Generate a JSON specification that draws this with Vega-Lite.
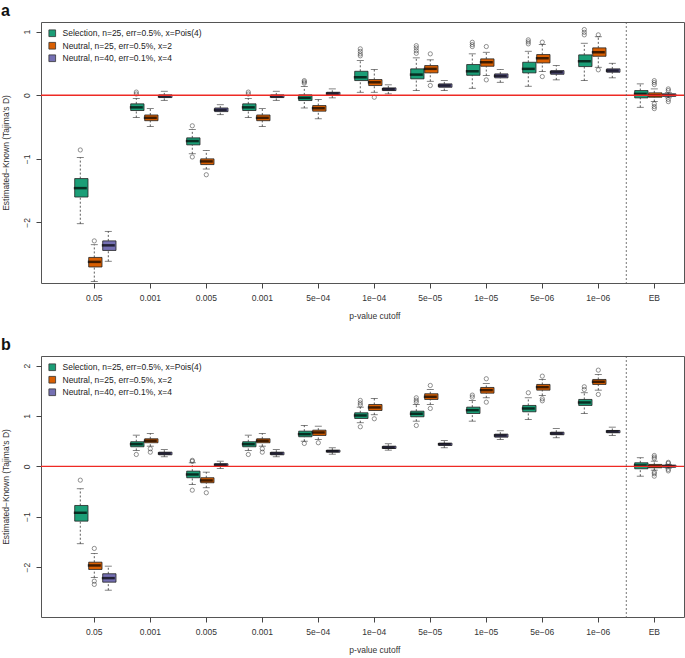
{
  "$schema": "https://vega.github.io/schema/vega-lite/v6.json",
  "padding": {"left": 0, "top": 2, "right": 2, "bottom": 0},
  "background": "white",
  "spacing": 15,
  "config": {
    "font": "Liberation Sans",
    "view": {"stroke": "#555", "strokeWidth": 1},
    "axis": {"labelFont": "Liberation Sans", "titleFont": "Liberation Sans", "labelFontSize": 8.5, "titleFontSize": 8.5, "labelColor": "#333", "titleColor": "#333", "titleFontWeight": "normal", "tickColor": "#444", "domain": false, "grid": false, "tickSize": 5},
    "legend": {"labelFont": "Liberation Sans", "labelFontSize": 8.5, "labelColor": "#222"},
    "title": {"font": "Liberation Sans", "fontSize": 16, "fontWeight": "bold", "anchor": "start", "frame": "bounds", "offset": 3, "color": "#111"}
  },
  "resolve": {"scale": {"fill": "independent", "y": "independent"}, "legend": {"fill": "independent"}},
  "datasets": {
    "boxes": [
      {"p":"a","c":"0.05","g":"sel","lo":-2.02,"q1":-1.60,"md":-1.46,"q3":-1.31,"hi":-0.98},
      {"p":"a","c":"0.05","g":"n25","lo":-2.93,"q1":-2.70,"md":-2.62,"q3":-2.55,"hi":-2.35},
      {"p":"a","c":"0.05","g":"n40","lo":-2.61,"q1":-2.44,"md":-2.36,"q3":-2.29,"hi":-2.14},
      {"p":"a","c":"0.001","g":"sel","lo":-0.35,"q1":-0.24,"md":-0.19,"q3":-0.135,"hi":-0.05},
      {"p":"a","c":"0.001","g":"n25","lo":-0.49,"q1":-0.40,"md":-0.355,"q3":-0.31,"hi":-0.21},
      {"p":"a","c":"0.001","g":"n40","lo":-0.08,"q1":-0.036,"md":-0.016,"q3":0.006,"hi":0.063},
      {"p":"a","c":"0.005","g":"sel","lo":-0.92,"q1":-0.78,"md":-0.72,"q3":-0.67,"hi":-0.54},
      {"p":"a","c":"0.005","g":"n25","lo":-1.16,"q1":-1.09,"md":-1.04,"q3":-1.0,"hi":-0.87},
      {"p":"a","c":"0.005","g":"n40","lo":-0.305,"q1":-0.257,"md":-0.23,"q3":-0.2,"hi":-0.149},
      {"p":"a","c":"0.001 (2)","g":"sel","lo":-0.35,"q1":-0.24,"md":-0.19,"q3":-0.135,"hi":-0.05},
      {"p":"a","c":"0.001 (2)","g":"n25","lo":-0.49,"q1":-0.40,"md":-0.355,"q3":-0.31,"hi":-0.21},
      {"p":"a","c":"0.001 (2)","g":"n40","lo":-0.08,"q1":-0.036,"md":-0.016,"q3":0.006,"hi":0.063},
      {"p":"a","c":"5e−04","g":"sel","lo":-0.2,"q1":-0.083,"md":-0.041,"q3":0.006,"hi":0.137},
      {"p":"a","c":"5e−04","g":"n25","lo":-0.37,"q1":-0.25,"md":-0.204,"q3":-0.162,"hi":-0.068},
      {"p":"a","c":"5e−04","g":"n40","lo":-0.041,"q1":0.006,"md":0.027,"q3":0.047,"hi":0.1},
      {"p":"a","c":"1e−04","g":"sel","lo":0.047,"q1":0.231,"md":0.283,"q3":0.377,"hi":0.546},
      {"p":"a","c":"1e−04","g":"n25","lo":0.047,"q1":0.153,"md":0.204,"q3":0.247,"hi":0.404},
      {"p":"a","c":"1e−04","g":"n40","lo":0.022,"q1":0.074,"md":0.094,"q3":0.116,"hi":0.164},
      {"p":"a","c":"5e−05","g":"sel","lo":0.074,"q1":0.258,"md":0.325,"q3":0.415,"hi":0.588},
      {"p":"a","c":"5e−05","g":"n25","lo":0.22,"q1":0.352,"md":0.415,"q3":0.467,"hi":0.557},
      {"p":"a","c":"5e−05","g":"n40","lo":0.074,"q1":0.126,"md":0.153,"q3":0.179,"hi":0.231},
      {"p":"a","c":"1e−05","g":"sel","lo":0.11,"q1":0.314,"md":0.377,"q3":0.483,"hi":0.651},
      {"p":"a","c":"1e−05","g":"n25","lo":0.31,"q1":0.456,"md":0.519,"q3":0.572,"hi":0.676},
      {"p":"a","c":"1e−05","g":"n40","lo":0.204,"q1":0.274,"md":0.305,"q3":0.336,"hi":0.404},
      {"p":"a","c":"5e−06","g":"sel","lo":0.142,"q1":0.352,"md":0.415,"q3":0.519,"hi":0.692},
      {"p":"a","c":"5e−06","g":"n25","lo":0.373,"q1":0.509,"md":0.582,"q3":0.64,"hi":0.80},
      {"p":"a","c":"5e−06","g":"n40","lo":0.242,"q1":0.33,"md":0.362,"q3":0.388,"hi":0.467},
      {"p":"a","c":"1e−06","g":"sel","lo":0.231,"q1":0.451,"md":0.535,"q3":0.635,"hi":0.818},
      {"p":"a","c":"1e−06","g":"n25","lo":0.44,"q1":0.613,"md":0.676,"q3":0.745,"hi":0.92},
      {"p":"a","c":"1e−06","g":"n40","lo":0.274,"q1":0.362,"md":0.388,"q3":0.415,"hi":0.503},
      {"p":"a","c":"EB","g":"sel","lo":-0.189,"q1":-0.041,"md":0.022,"q3":0.074,"hi":0.179},
      {"p":"a","c":"EB","g":"n25","lo":-0.1,"q1":-0.031,"md":0.0,"q3":0.038,"hi":0.1},
      {"p":"a","c":"EB","g":"n40","lo":-0.04,"q1":-0.016,"md":0.003,"q3":0.022,"hi":0.04},
      {"p":"b","c":"0.05","g":"sel","lo":-1.537,"q1":-1.088,"md":-0.922,"q3":-0.777,"hi":-0.445},
      {"p":"b","c":"0.05","g":"n25","lo":-2.21,"q1":-2.048,"md":-1.968,"q3":-1.903,"hi":-1.73},
      {"p":"b","c":"0.05","g":"n40","lo":-2.459,"q1":-2.3,"md":-2.22,"q3":-2.133,"hi":-1.982},
      {"p":"b","c":"0.001","g":"sel","lo":0.316,"q1":0.389,"md":0.441,"q3":0.489,"hi":0.62},
      {"p":"b","c":"0.001","g":"n25","lo":0.401,"q1":0.469,"md":0.508,"q3":0.548,"hi":0.653},
      {"p":"b","c":"0.001","g":"n40","lo":0.19,"q1":0.23,"md":0.256,"q3":0.282,"hi":0.336},
      {"p":"b","c":"0.005","g":"sel","lo":-0.36,"q1":-0.226,"md":-0.161,"q3":-0.095,"hi":0.071},
      {"p":"b","c":"0.005","g":"n25","lo":-0.425,"q1":-0.326,"md":-0.28,"q3":-0.226,"hi":-0.115},
      {"p":"b","c":"0.005","g":"n40","lo":-0.042,"q1":0.012,"md":0.032,"q3":0.052,"hi":0.103},
      {"p":"b","c":"0.001 (2)","g":"sel","lo":0.316,"q1":0.389,"md":0.441,"q3":0.489,"hi":0.62},
      {"p":"b","c":"0.001 (2)","g":"n25","lo":0.401,"q1":0.469,"md":0.508,"q3":0.548,"hi":0.653},
      {"p":"b","c":"0.001 (2)","g":"n40","lo":0.19,"q1":0.23,"md":0.256,"q3":0.282,"hi":0.336},
      {"p":"b","c":"5e−04","g":"sel","lo":0.5,"q1":0.588,"md":0.64,"q3":0.699,"hi":0.812},
      {"p":"b","c":"5e−04","g":"n25","lo":0.534,"q1":0.614,"md":0.673,"q3":0.719,"hi":0.798},
      {"p":"b","c":"5e−04","g":"n40","lo":0.242,"q1":0.282,"md":0.302,"q3":0.322,"hi":0.369},
      {"p":"b","c":"1e−04","g":"sel","lo":0.866,"q1":0.951,"md":1.011,"q3":1.064,"hi":1.176},
      {"p":"b","c":"1e−04","g":"n25","lo":1.025,"q1":1.11,"md":1.17,"q3":1.229,"hi":1.349},
      {"p":"b","c":"1e−04","g":"n40","lo":0.322,"q1":0.355,"md":0.375,"q3":0.401,"hi":0.449},
      {"p":"b","c":"5e−05","g":"sel","lo":0.898,"q1":0.985,"md":1.045,"q3":1.096,"hi":1.229},
      {"p":"b","c":"5e−05","g":"n25","lo":1.229,"q1":1.329,"md":1.382,"q3":1.442,"hi":1.527},
      {"p":"b","c":"5e−05","g":"n40","lo":0.369,"q1":0.415,"md":0.441,"q3":0.461,"hi":0.514},
      {"p":"b","c":"1e−05","g":"sel","lo":0.898,"q1":1.05,"md":1.116,"q3":1.176,"hi":1.309},
      {"p":"b","c":"1e−05","g":"n25","lo":1.362,"q1":1.454,"md":1.514,"q3":1.567,"hi":1.647},
      {"p":"b","c":"1e−05","g":"n40","lo":0.534,"q1":0.58,"md":0.614,"q3":0.64,"hi":0.707},
      {"p":"b","c":"5e−06","g":"sel","lo":0.931,"q1":1.084,"md":1.15,"q3":1.21,"hi":1.362},
      {"p":"b","c":"5e−06","g":"n25","lo":1.408,"q1":1.514,"md":1.573,"q3":1.627,"hi":1.726},
      {"p":"b","c":"5e−06","g":"n40","lo":0.568,"q1":0.628,"md":0.653,"q3":0.679,"hi":0.753},
      {"p":"b","c":"1e−06","g":"sel","lo":1.05,"q1":1.21,"md":1.269,"q3":1.329,"hi":1.462},
      {"p":"b","c":"1e−06","g":"n25","lo":1.514,"q1":1.627,"md":1.68,"q3":1.726,"hi":1.825},
      {"p":"b","c":"1e−06","g":"n40","lo":0.614,"q1":0.667,"md":0.693,"q3":0.713,"hi":0.779},
      {"p":"b","c":"EB","g":"sel","lo":-0.195,"q1":-0.048,"md":0.018,"q3":0.071,"hi":0.171},
      {"p":"b","c":"EB","g":"n25","lo":-0.075,"q1":-0.028,"md":0.004,"q3":0.038,"hi":0.103},
      {"p":"b","c":"EB","g":"n40","lo":-0.035,"q1":-0.016,"md":0.004,"q3":0.024,"hi":0.04}
    ],
    "outs": [
      {"p":"a","c":"0.05","g":"sel","v":-0.86},
      {"p":"a","c":"0.05","g":"n25","v":-2.29},
      {"p":"a","c":"0.001","g":"sel","v":0.02},
      {"p":"a","c":"0.001","g":"sel","v":0.05},
      {"p":"a","c":"0.005","g":"sel","v":-0.48},
      {"p":"a","c":"0.005","g":"sel","v":-0.97},
      {"p":"a","c":"0.005","g":"n25","v":-1.25},
      {"p":"a","c":"0.001 (2)","g":"sel","v":0.02},
      {"p":"a","c":"0.001 (2)","g":"sel","v":0.05},
      {"p":"a","c":"5e−04","g":"sel","v":0.19},
      {"p":"a","c":"5e−04","g":"sel","v":0.21},
      {"p":"a","c":"5e−04","g":"sel","v":0.23},
      {"p":"a","c":"1e−04","g":"sel","v":0.62},
      {"p":"a","c":"1e−04","g":"sel","v":0.65},
      {"p":"a","c":"1e−04","g":"sel","v":0.69},
      {"p":"a","c":"1e−04","g":"sel","v":0.73},
      {"p":"a","c":"1e−04","g":"n25","v":-0.031},
      {"p":"a","c":"5e−05","g":"sel","v":0.66},
      {"p":"a","c":"5e−05","g":"sel","v":0.70},
      {"p":"a","c":"5e−05","g":"sel","v":0.745},
      {"p":"a","c":"5e−05","g":"sel","v":0.78},
      {"p":"a","c":"5e−05","g":"n25","v":0.651},
      {"p":"a","c":"5e−05","g":"n25","v":0.153},
      {"p":"a","c":"1e−05","g":"sel","v":0.766},
      {"p":"a","c":"1e−05","g":"sel","v":0.797},
      {"p":"a","c":"1e−05","g":"sel","v":0.833},
      {"p":"a","c":"1e−05","g":"n25","v":0.766},
      {"p":"a","c":"1e−05","g":"n25","v":0.242},
      {"p":"a","c":"5e−06","g":"sel","v":0.808},
      {"p":"a","c":"5e−06","g":"sel","v":0.84},
      {"p":"a","c":"5e−06","g":"sel","v":0.871},
      {"p":"a","c":"5e−06","g":"n25","v":0.835},
      {"p":"a","c":"5e−06","g":"n25","v":0.294},
      {"p":"a","c":"1e−06","g":"sel","v":0.95},
      {"p":"a","c":"1e−06","g":"sel","v":0.99},
      {"p":"a","c":"1e−06","g":"sel","v":1.033},
      {"p":"a","c":"1e−06","g":"n25","v":0.95},
      {"p":"a","c":"1e−06","g":"n25","v":0.40},
      {"p":"a","c":"EB","g":"n25","v":0.168},
      {"p":"a","c":"EB","g":"n25","v":0.2},
      {"p":"a","c":"EB","g":"n25","v":0.23},
      {"p":"a","c":"EB","g":"n25","v":-0.135},
      {"p":"a","c":"EB","g":"n25","v":-0.178},
      {"p":"a","c":"EB","g":"n25","v":-0.21},
      {"p":"a","c":"EB","g":"n40","v":0.074},
      {"p":"a","c":"EB","g":"n40","v":0.1},
      {"p":"a","c":"EB","g":"n40","v":-0.066},
      {"p":"a","c":"EB","g":"n40","v":-0.1},
      {"p":"b","c":"0.05","g":"sel","v":-0.274},
      {"p":"b","c":"0.05","g":"n25","v":-1.63},
      {"p":"b","c":"0.05","g":"n25","v":-2.28},
      {"p":"b","c":"0.05","g":"n25","v":-2.345},
      {"p":"b","c":"0.001","g":"sel","v":0.236},
      {"p":"b","c":"0.001","g":"n25","v":0.349},
      {"p":"b","c":"0.001","g":"n25","v":0.282},
      {"p":"b","c":"0.005","g":"sel","v":0.10},
      {"p":"b","c":"0.005","g":"sel","v":0.12},
      {"p":"b","c":"0.005","g":"sel","v":-0.473},
      {"p":"b","c":"0.005","g":"n25","v":-0.524},
      {"p":"b","c":"0.001 (2)","g":"sel","v":0.236},
      {"p":"b","c":"0.001 (2)","g":"n25","v":0.349},
      {"p":"b","c":"0.001 (2)","g":"n25","v":0.282},
      {"p":"b","c":"5e−04","g":"sel","v":0.455},
      {"p":"b","c":"5e−04","g":"n25","v":0.469},
      {"p":"b","c":"1e−04","g":"sel","v":1.22},
      {"p":"b","c":"1e−04","g":"sel","v":1.26},
      {"p":"b","c":"1e−04","g":"sel","v":1.31},
      {"p":"b","c":"1e−04","g":"sel","v":0.786},
      {"p":"b","c":"1e−04","g":"n25","v":0.945},
      {"p":"b","c":"5e−05","g":"sel","v":1.275},
      {"p":"b","c":"5e−05","g":"sel","v":1.315},
      {"p":"b","c":"5e−05","g":"sel","v":1.362},
      {"p":"b","c":"5e−05","g":"sel","v":0.812},
      {"p":"b","c":"5e−05","g":"n25","v":1.607},
      {"p":"b","c":"5e−05","g":"n25","v":1.15},
      {"p":"b","c":"1e−05","g":"sel","v":1.375},
      {"p":"b","c":"1e−05","g":"sel","v":1.415},
      {"p":"b","c":"1e−05","g":"n25","v":1.74},
      {"p":"b","c":"1e−05","g":"n25","v":1.275},
      {"p":"b","c":"5e−06","g":"sel","v":1.462},
      {"p":"b","c":"5e−06","g":"n25","v":1.792},
      {"p":"b","c":"5e−06","g":"n25","v":1.342},
      {"p":"b","c":"5e−06","g":"n25","v":1.302},
      {"p":"b","c":"1e−06","g":"sel","v":1.527},
      {"p":"b","c":"1e−06","g":"sel","v":1.581},
      {"p":"b","c":"1e−06","g":"n25","v":1.911},
      {"p":"b","c":"1e−06","g":"n25","v":1.428},
      {"p":"b","c":"EB","g":"n25","v":0.151},
      {"p":"b","c":"EB","g":"n25","v":0.183},
      {"p":"b","c":"EB","g":"n25","v":0.216},
      {"p":"b","c":"EB","g":"n25","v":-0.115},
      {"p":"b","c":"EB","g":"n25","v":-0.147},
      {"p":"b","c":"EB","g":"n25","v":-0.195},
      {"p":"b","c":"EB","g":"n40","v":0.06},
      {"p":"b","c":"EB","g":"n40","v":0.08},
      {"p":"b","c":"EB","g":"n40","v":-0.06},
      {"p":"b","c":"EB","g":"n40","v":-0.09}
    ]
  },
  "vconcat": [
    {
      "title": {"text": "a"},
      "width": 643,
      "height": 261,
      "layer": [
        {
          "data": {"name": "boxes"},
          "transform": [{"filter": "datum.p === 'a'"}],
          "mark": {"type": "rule", "strokeDash": [2, 2], "color": "#333", "strokeWidth": 0.8},
          "encoding": {
            "x": {"field": "c", "type": "nominal", "sort": ["0.05","0.001","0.005","0.001 (2)","5e−04","1e−04","5e−05","1e−05","5e−06","1e−06","EB"], "scale": {"range": [25.3, 641.3], "paddingInner": 0, "paddingOuter": 0}, "axis": {"title": "p-value cutoff", "labelAngle": 0, "labelPadding": 5, "titlePadding": 10, "labelExpr": "replace(datum.label, ' (2)', '')"}},
            "xOffset": {"field": "g", "type": "nominal", "sort": ["sel","n25","n40"], "scale": {"paddingInner": 0, "paddingOuter": 0.5}},
            "y": {"field": "lo", "type": "quantitative", "scale": {"domain": [-2.952, 1.152], "nice": false, "zero": false}, "axis": {"title": "Estimated−Known (Tajima's D)", "values": [-2, -1, 0, 1], "format": "d", "labelAngle": 270, "labelAlign": "center", "labelBaseline": "bottom", "labelPadding": 5, "titlePadding": 12}},
            "y2": {"field": "q1"}
          }
        },
        {
          "data": {"name": "boxes"},
          "transform": [{"filter": "datum.p === 'a'"}],
          "mark": {"type": "rule", "strokeDash": [2, 2], "color": "#333", "strokeWidth": 0.8},
          "encoding": {
            "x": {"field": "c", "type": "nominal", "sort": ["0.05","0.001","0.005","0.001 (2)","5e−04","1e−04","5e−05","1e−05","5e−06","1e−06","EB"]},
            "xOffset": {"field": "g", "type": "nominal", "sort": ["sel","n25","n40"]},
            "y": {"field": "q3", "type": "quantitative"},
            "y2": {"field": "hi"}
          }
        },
        {
          "data": {"name": "boxes"},
          "transform": [{"filter": "datum.p === 'a'"}, {"fold": ["lo", "hi"], "as": ["k", "cap"]}],
          "mark": {"type": "tick", "color": "#222", "size": 7, "thickness": 0.8, "orient": "horizontal"},
          "encoding": {
            "x": {"field": "c", "type": "nominal", "sort": ["0.05","0.001","0.005","0.001 (2)","5e−04","1e−04","5e−05","1e−05","5e−06","1e−06","EB"]},
            "xOffset": {"field": "g", "type": "nominal", "sort": ["sel","n25","n40"]},
            "y": {"field": "cap", "type": "quantitative"}
          }
        },
        {
          "data": {"name": "boxes"},
          "transform": [{"filter": "datum.p === 'a'"}],
          "mark": {"type": "bar", "stroke": "#222", "strokeWidth": 0.8, "width": {"band": 0.95}},
          "encoding": {
            "x": {"field": "c", "type": "nominal", "sort": ["0.05","0.001","0.005","0.001 (2)","5e−04","1e−04","5e−05","1e−05","5e−06","1e−06","EB"]},
            "xOffset": {"field": "g", "type": "nominal", "sort": ["sel","n25","n40"]},
            "y": {"field": "q1", "type": "quantitative"},
            "y2": {"field": "q3"},
            "fill": {"field": "g", "type": "nominal", "scale": {"domain": ["sel","n25","n40"], "range": ["#1b9e77","#d95f02","#7570b3"]}, "legend": {"title": null, "orient": "top-left", "offset": 7, "padding": 0, "symbolType": "square", "symbolSize": 45, "symbolStrokeColor": "#333", "symbolStrokeWidth": 0.8, "rowPadding": 1.5, "labelOffset": 6, "labelExpr": "datum.value === 'sel' ? 'Selection, n=25, err=0.5%, x=Pois(4)' : datum.value === 'n25' ? 'Neutral, n=25, err=0.5%, x=2' : 'Neutral, n=40, err=0.1%, x=4'"}}
          }
        },
        {
          "data": {"name": "boxes"},
          "transform": [{"filter": "datum.p === 'a'"}],
          "mark": {"type": "tick", "color": "#000", "size": 13, "thickness": 2.5, "orient": "horizontal"},
          "encoding": {
            "x": {"field": "c", "type": "nominal", "sort": ["0.05","0.001","0.005","0.001 (2)","5e−04","1e−04","5e−05","1e−05","5e−06","1e−06","EB"]},
            "xOffset": {"field": "g", "type": "nominal", "sort": ["sel","n25","n40"]},
            "y": {"field": "md", "type": "quantitative"}
          }
        },
        {
          "data": {"name": "outs"},
          "transform": [{"filter": "datum.p === 'a'"}],
          "mark": {"type": "point", "shape": "circle", "filled": false, "size": 18, "stroke": "#222", "strokeWidth": 0.7},
          "encoding": {
            "x": {"field": "c", "type": "nominal", "sort": ["0.05","0.001","0.005","0.001 (2)","5e−04","1e−04","5e−05","1e−05","5e−06","1e−06","EB"]},
            "xOffset": {"field": "g", "type": "nominal", "sort": ["sel","n25","n40"]},
            "y": {"field": "v", "type": "quantitative"}
          }
        },
        {
          "data": {"values": [{}]},
          "mark": {"type": "rule", "color": "#ee2a24", "strokeWidth": 1.4},
          "encoding": {"y": {"datum": 0, "type": "quantitative"}}
        },
        {
          "data": {"values": [{}]},
          "mark": {"type": "rule", "color": "#555", "strokeWidth": 0.8, "strokeDash": [2, 2]},
          "encoding": {"x": {"datum": "EB", "type": "nominal", "bandPosition": 0}}
        }
      ]
    },
    {
      "title": {"text": "b"},
      "width": 643,
      "height": 261,
      "layer": [
        {
          "data": {"name": "boxes"},
          "transform": [{"filter": "datum.p === 'b'"}],
          "mark": {"type": "rule", "strokeDash": [2, 2], "color": "#333", "strokeWidth": 0.8},
          "encoding": {
            "x": {"field": "c", "type": "nominal", "sort": ["0.05","0.001","0.005","0.001 (2)","5e−04","1e−04","5e−05","1e−05","5e−06","1e−06","EB"], "scale": {"range": [25.3, 641.3], "paddingInner": 0, "paddingOuter": 0}, "axis": {"title": "p-value cutoff", "labelAngle": 0, "labelPadding": 5, "titlePadding": 10, "labelExpr": "replace(datum.label, ' (2)', '')"}},
            "xOffset": {"field": "g", "type": "nominal", "sort": ["sel","n25","n40"], "scale": {"paddingInner": 0, "paddingOuter": 0.5}},
            "y": {"field": "lo", "type": "quantitative", "scale": {"domain": [-2.992, 2.192], "nice": false, "zero": false}, "axis": {"title": "Estimated−Known (Tajima's D)", "values": [-2, -1, 0, 1, 2], "format": "d", "labelAngle": 270, "labelAlign": "center", "labelBaseline": "bottom", "labelPadding": 5, "titlePadding": 12}},
            "y2": {"field": "q1"}
          }
        },
        {
          "data": {"name": "boxes"},
          "transform": [{"filter": "datum.p === 'b'"}],
          "mark": {"type": "rule", "strokeDash": [2, 2], "color": "#333", "strokeWidth": 0.8},
          "encoding": {
            "x": {"field": "c", "type": "nominal", "sort": ["0.05","0.001","0.005","0.001 (2)","5e−04","1e−04","5e−05","1e−05","5e−06","1e−06","EB"]},
            "xOffset": {"field": "g", "type": "nominal", "sort": ["sel","n25","n40"]},
            "y": {"field": "q3", "type": "quantitative"},
            "y2": {"field": "hi"}
          }
        },
        {
          "data": {"name": "boxes"},
          "transform": [{"filter": "datum.p === 'b'"}, {"fold": ["lo", "hi"], "as": ["k", "cap"]}],
          "mark": {"type": "tick", "color": "#222", "size": 7, "thickness": 0.8, "orient": "horizontal"},
          "encoding": {
            "x": {"field": "c", "type": "nominal", "sort": ["0.05","0.001","0.005","0.001 (2)","5e−04","1e−04","5e−05","1e−05","5e−06","1e−06","EB"]},
            "xOffset": {"field": "g", "type": "nominal", "sort": ["sel","n25","n40"]},
            "y": {"field": "cap", "type": "quantitative"}
          }
        },
        {
          "data": {"name": "boxes"},
          "transform": [{"filter": "datum.p === 'b'"}],
          "mark": {"type": "bar", "stroke": "#222", "strokeWidth": 0.8, "width": {"band": 0.95}},
          "encoding": {
            "x": {"field": "c", "type": "nominal", "sort": ["0.05","0.001","0.005","0.001 (2)","5e−04","1e−04","5e−05","1e−05","5e−06","1e−06","EB"]},
            "xOffset": {"field": "g", "type": "nominal", "sort": ["sel","n25","n40"]},
            "y": {"field": "q1", "type": "quantitative"},
            "y2": {"field": "q3"},
            "fill": {"field": "g", "type": "nominal", "scale": {"domain": ["sel","n25","n40"], "range": ["#1b9e77","#d95f02","#7570b3"]}, "legend": {"title": null, "orient": "top-left", "offset": 7, "padding": 0, "symbolType": "square", "symbolSize": 45, "symbolStrokeColor": "#333", "symbolStrokeWidth": 0.8, "rowPadding": 1.5, "labelOffset": 6, "labelExpr": "datum.value === 'sel' ? 'Selection, n=25, err=0.5%, x=Pois(4)' : datum.value === 'n25' ? 'Neutral, n=25, err=0.5%, x=2' : 'Neutral, n=40, err=0.1%, x=4'"}}
          }
        },
        {
          "data": {"name": "boxes"},
          "transform": [{"filter": "datum.p === 'b'"}],
          "mark": {"type": "tick", "color": "#000", "size": 13, "thickness": 2.5, "orient": "horizontal"},
          "encoding": {
            "x": {"field": "c", "type": "nominal", "sort": ["0.05","0.001","0.005","0.001 (2)","5e−04","1e−04","5e−05","1e−05","5e−06","1e−06","EB"]},
            "xOffset": {"field": "g", "type": "nominal", "sort": ["sel","n25","n40"]},
            "y": {"field": "md", "type": "quantitative"}
          }
        },
        {
          "data": {"name": "outs"},
          "transform": [{"filter": "datum.p === 'b'"}],
          "mark": {"type": "point", "shape": "circle", "filled": false, "size": 18, "stroke": "#222", "strokeWidth": 0.7},
          "encoding": {
            "x": {"field": "c", "type": "nominal", "sort": ["0.05","0.001","0.005","0.001 (2)","5e−04","1e−04","5e−05","1e−05","5e−06","1e−06","EB"]},
            "xOffset": {"field": "g", "type": "nominal", "sort": ["sel","n25","n40"]},
            "y": {"field": "v", "type": "quantitative"}
          }
        },
        {
          "data": {"values": [{}]},
          "mark": {"type": "rule", "color": "#ee2a24", "strokeWidth": 1.4},
          "encoding": {"y": {"datum": 0, "type": "quantitative"}}
        },
        {
          "data": {"values": [{}]},
          "mark": {"type": "rule", "color": "#555", "strokeWidth": 0.8, "strokeDash": [2, 2]},
          "encoding": {"x": {"datum": "EB", "type": "nominal", "bandPosition": 0}}
        }
      ]
    }
  ]
}
